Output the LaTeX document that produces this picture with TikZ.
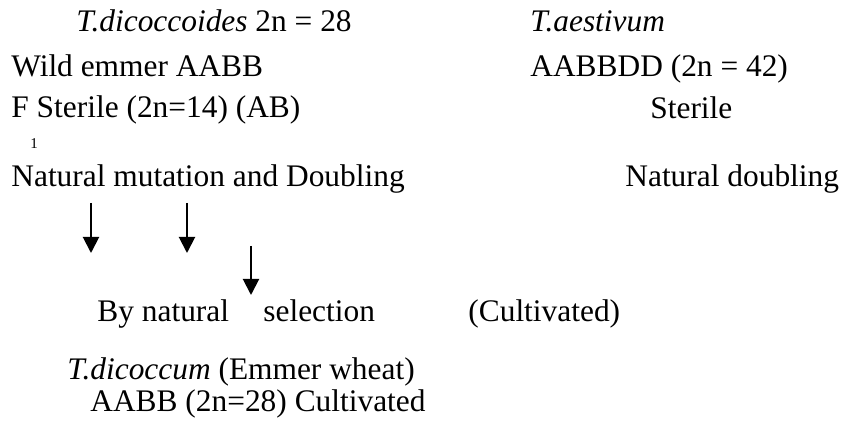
\documentclass[tikz,border=0pt]{standalone}
\usepackage{fontspec}
\setmainfont{Liberation Serif}
\usetikzlibrary{arrows.meta}

\begin{document}
\begin{tikzpicture}[
    x=0.5pt, y=-0.5pt,
    label text/.style={anchor=base west, inner sep=0pt, font=\fontsize{15.7}{19}\selectfont},
    index text/.style={anchor=base west, inner sep=0pt, font=\fontsize{7.5}{9}\selectfont},
    down arrow/.style={-{Triangle[length=8pt, width=8pt]}, line width=1pt}
    ]
    \useasboundingbox (0,0) rectangle (846,421);

    % left column
    \node [label text] (dicoccoides) at (76,32) {\textit{T.dicoccoides} 2n = 28};
    \node [label text] (wildemmer) at (11,77) {Wild emmer AABB};
    \node [label text] (sterileF) at (11,118) {F Sterile (2n=14) (AB)};
    \node [index text] (findex) at (30,149) {1};
    \node [label text] (mutation) at (11,187) {Natural mutation and Doubling};

    % right column
    \node [label text] (aestivum) at (530,32) {\textit{T.aestivum}};
    \node [label text] (hexaploid) at (530,77) {AABBDD (2n = 42)};
    \node [label text] (sterileR) at (650,119) {Sterile};
    \node [label text] (doubling) at (625,187) {Natural doubling};

    % arrows
    \foreach \name/\x/\top/\bot in {left/91/203/253, mid/187/203/253, sel/251/246/295} {
        \coordinate (\name top) at (\x,\top);
        \coordinate (\name tip) at (\x,\bot);
        \draw [down arrow] (\name top) -- (\name tip);
    }

    % lower part
    \node [label text] (bynatural) at (97,322) {By natural};
    \node [label text] (selection) at (263,322) {selection};
    \node [label text] (cultivated) at (468,322) {(Cultivated)};
    \node [label text] (dicoccum) at (67,380) {\textit{T.dicoccum} (Emmer wheat)};
    \node [label text] (emmerAABB) at (90,412) {AABB (2n=28) Cultivated};
\end{tikzpicture}
\end{document}
